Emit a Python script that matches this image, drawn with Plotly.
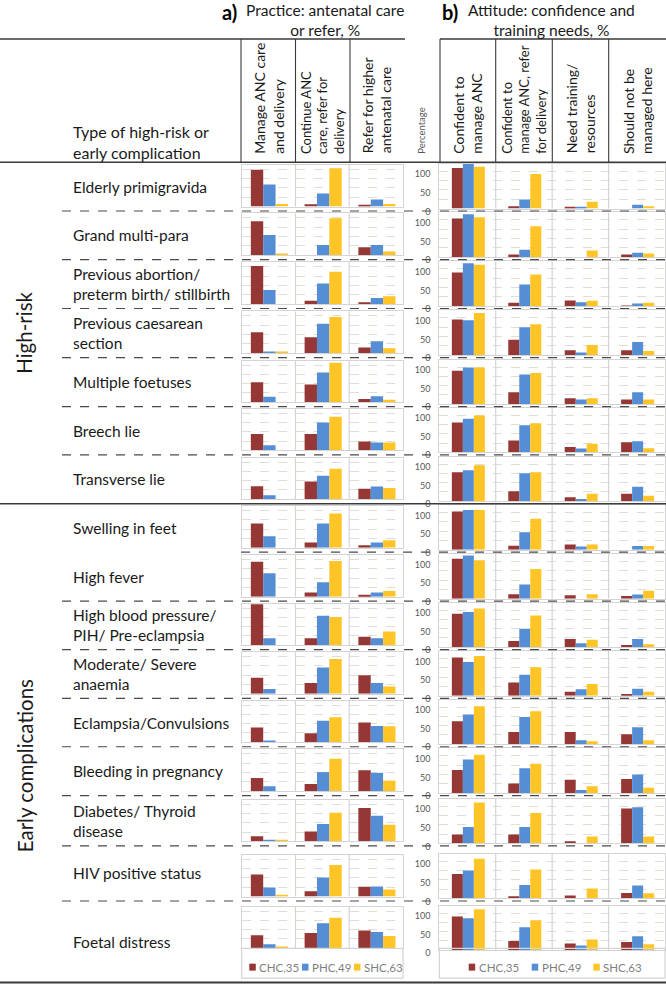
import plotly.graph_objects as go

# ---- data (percent) ----
conditions = [
    "Elderly primigravida", "Grand multi-para", "Previous abortion/<br>preterm birth/ stillbirth",
    "Previous caesarean<br>section", "Multiple foetuses", "Breech lie", "Transverse lie",
    "Swelling in feet", "High fever", "High blood pressure/<br>PIH/ Pre-eclampsia",
    "Moderate/ Severe<br>anaemia", "Eclampsia/Convulsions", "Bleeding in pregnancy",
    "Diabetes/ Thyroid<br>disease", "HIV positive status", "Foetal distress",
]
groups = ["High-risk", "Early complications"]
practice_cols = ["Manage ANC care<br>and delivery", "Continue ANC<br>care, refer for<br>delivery",
                 "Refer for higher<br>antenatal care"]
attitude_cols = ["Confident to<br>manage ANC", "Confident to<br>manage ANC, refer<br>for delivery",
                 "Need training/<br>resources", "Should not be<br>managed here"]
facilities = ["CHC,35", "PHC,49", "SHC,63"]
colors = ["#953735", "#558ED5", "#FFC425"]

chc_practice = [[99, 6, 5], [91, 0, 21], [102, 9, 5], [56, 43, 15], [54, 48, 9], [44, 44, 24],
                [35, 48, 28], [65, 14, 7], [94, 11, 5], [110, 19, 23], [43, 29, 50], [40, 24, 53],
                [35, 19, 56], [14, 27, 90], [59, 14, 26], [35, 41, 48]]
phc_practice = [[59, 35, 19], [54, 27, 27], [38, 55, 16], [4, 79, 32], [15, 80, 16], [14, 75, 21],
                [11, 63, 34], [31, 65, 14], [63, 39, 11], [19, 79, 19], [13, 71, 29], [4, 58, 44],
                [13, 51, 49], [4, 47, 69], [24, 51, 27], [11, 67, 44]]
shc_practice = [[7, 103, 7], [4, 99, 10], [0, 87, 21], [2, 97, 13], [0, 106, 7], [0, 90, 21],
                [0, 82, 30], [0, 92, 20], [0, 96, 15], [0, 76, 37], [0, 94, 20], [0, 67, 43],
                [0, 87, 28], [3, 77, 45], [4, 85, 19], [5, 82, 33]]

chc_attitude = [[109, 6, 4, 0], [104, 7, 0, 7], [90, 9, 15, 1], [96, 41, 13, 13], [90, 32, 16, 13],
                [80, 32, 14, 27], [78, 27, 11, 20], [103, 11, 14, 0], [107, 12, 9, 7], [90, 17, 22, 6],
                [103, 36, 11, 5], [62, 33, 33, 27], [62, 26, 36, 38], [24, 24, 6, 94], [66, 6, 8, 15],
                [91, 25, 18, 22]]
phc_attitude = [[120, 24, 4, 10], [115, 20, 0, 12], [115, 58, 10, 7], [94, 75, 7, 35], [99, 80, 13, 32],
                [90, 73, 10, 30], [83, 75, 6, 39], [107, 47, 9, 10], [116, 38, 0, 11], [95, 50, 11, 22],
                [91, 57, 18, 19], [80, 73, 11, 46], [90, 67, 8, 50], [44, 44, 0, 97], [75, 36, 0, 35],
                [86, 62, 13, 38]]
shc_attitude = [[112, 93, 18, 6], [107, 83, 18, 10], [111, 85, 14, 9], [113, 83, 27, 11], [99, 84, 16, 13],
                [99, 78, 23, 11], [97, 78, 20, 15], [107, 83, 14, 10], [103, 80, 12, 21], [104, 85, 20, 8],
                [107, 77, 32, 11], [102, 89, 8, 11], [103, 79, 18, 14], [110, 82, 19, 19], [107, 78, 27, 14],
                [110, 81, 29, 16]]

practice = [chc_practice, phc_practice, shc_practice]
attitude = [chc_attitude, phc_attitude, shc_attitude]

# ---- page geometry (pixels) ----
W, H = 666, 992
FONT = "Lato"
row_bounds = [163.5, 212.7, 261.7, 311, 360.5, 410, 458.5, 507.8, 556.7, 606, 655, 704,
              752.8, 802, 852.8, 908.3, 991]
prac_x = (241.7, 403)
att_x = (439.3, 665)


def fx(v):
    return v / W


def fy(v):
    return 1 - v / H


def ax(n):
    return "" if n == 1 else str(n)


def note(text, x, y, size, color="#1a1a1a", **kw):
    return dict(text=text, x=fx(x), y=fy(y), xref="paper", yref="paper", showarrow=False,
                font=dict(family=FONT, size=size, color=color), **kw)


fig = go.Figure()
shapes = []
annotations = []
grid_col = "#e2ddd2"
box_col = "#d4d4d4"

for i in range(len(conditions)):
    last = i == len(conditions) - 1
    p_base = 956 if last else row_bounds[i + 1] - 4.5
    a_base = 958 if last else row_bounds[i + 1] - 2.5
    for panel, (cols, data, xdom, base, top, width) in enumerate([
            (practice_cols, practice, prac_x, p_base, 112, 0.23),
            (attitude_cols, attitude, att_x, a_base, 120, 0.195)]):
        n = 2 * i + 1 + panel
        for j, name in enumerate(facilities):
            fig.add_trace(go.Bar(
                x=cols, y=data[j][i], name=name,
                xaxis="x" + ax(n), yaxis="y" + ax(n),
                marker=dict(color=colors[j], line=dict(width=0)),
                width=width, offset=-1.5 * width + j * width + 0.015,
                showlegend=False, hovertemplate="%{y}%<extra>" + name + "</extra>",
            ))
        px_h = top * 0.375
        fig.layout["xaxis" + ax(n)] = dict(
            domain=[fx(xdom[0]), fx(xdom[1])], anchor="y" + ax(n), type="category",
            categoryorder="array", categoryarray=cols, range=[-0.5, len(cols) - 0.5],
            showticklabels=False, showgrid=False, zeroline=False,
            showline=True, mirror=True, linecolor=box_col, linewidth=1.2, fixedrange=True)
        fig.layout["yaxis" + ax(n)] = dict(
            domain=[fy(base), fy(base - px_h)], anchor="x" + ax(n), range=[0, top],
            tickvals=[0, 50, 100], showticklabels=(panel == 1), ticks="",
            tickfont=dict(family=FONT, size=9, color="#595959"),
            ticklabelstandoff=6, ticklabelshift=3,
            showgrid=True, gridcolor=grid_col, gridwidth=1, griddash="dash",
            minor=dict(tickvals=[25, 75], showgrid=True, gridcolor=grid_col, griddash="dash"),
            zeroline=False, showline=True, mirror=True, linecolor=box_col, linewidth=1.2,
            fixedrange=True)
        for k in range(len(cols) - 1):
            shapes.append(dict(type="line", xref="x" + ax(n), yref="y" + ax(n) + " domain",
                               x0=k + 0.5, x1=k + 0.5, y0=0, y1=1,
                               line=dict(color=box_col, width=1.2)))

    # row label
    mid = (row_bounds[i] + row_bounds[i + 1]) / 2
    annotations.append(note(conditions[i], 71, mid, 15.5, xanchor="left", yanchor="middle", align="left"))

# extend the last row's boxes down to hold the legends
for x0, x1 in [prac_x, att_x]:
    shapes.append(dict(type="rect", xref="paper", yref="paper", x0=fx(x0), x1=fx(x1),
                       y0=fy(986), y1=fy(956), line=dict(color=box_col, width=1.2)))

# legends drawn under the last row
legend_pos = [[249.3, 302, 354], [468.7, 531.7, 593.3]]
for xs in legend_pos:
    for j, name in enumerate(facilities):
        shapes.append(dict(type="rect", xref="paper", yref="paper", x0=fx(xs[j]), x1=fx(xs[j] + 6.5),
                           y0=fy(978.5), y1=fy(971.5), fillcolor=colors[j], line=dict(width=0)))
        annotations.append(note(name, xs[j] + 8, 975.5, 11.5, "#7f7f7f", xanchor="left", yanchor="middle"))

# table rules
dark = "#3a3a3a"
for x0, x1 in [(0, 405), (440, 666)]:
    shapes.append(dict(type="line", xref="paper", yref="paper", x0=fx(x0), x1=fx(x1),
                       y0=fy(39.3), y1=fy(39.3), line=dict(color=dark, width=1.3)))
for yv, w in [(163.5, 1.6), (507.8, 1.6), (990.5, 1.8)]:
    shapes.append(dict(type="line", xref="paper", yref="paper", x0=0, x1=1,
                       y0=fy(yv), y1=fy(yv), line=dict(color=dark, width=w)))
for xv in [241, 295.5, 350, 440, 495.7, 552.3, 608.7]:
    shapes.append(dict(type="line", xref="paper", yref="paper", x0=fx(xv), x1=fx(xv),
                       y0=fy(39.3), y1=fy(163.5), line=dict(color=dark, width=1.1)))
for yv in row_bounds[1:-1]:
    if yv == 507.8:
        continue
    start = 241 if yv == 556.7 else 62
    shapes.append(dict(type="line", xref="paper", yref="paper", x0=fx(start), x1=1,
                       y0=fy(yv), y1=fy(yv), line=dict(color="#4a4a4a", width=1.2, dash="dash")))

# header texts
annotations += [
    note("<b>a)</b>", 239, 12, 20, "#000", xanchor="right", yanchor="middle"),
    note("Practice: antenatal care<br>or refer, %", 325, 20.5, 15.5, xanchor="center", yanchor="middle"),
    note("<b>b)</b>", 460, 12, 20, "#000", xanchor="right", yanchor="middle"),
    note("Attitude: confidence and<br>training needs, %", 551, 20.5, 15.5, xanchor="center",
         yanchor="middle"),
    note("Type of high-risk or<br>early complication", 71, 143, 16, xanchor="left", yanchor="middle",
         align="left"),
    note("Percentage", 422, 157, 9.5, "#595959", xanchor="center", yanchor="bottom", textangle=-90),
]
col_edges = [[241.7, 295.5, 350, 403], [439.3, 495.7, 552.3, 608.7, 665]]
for edges, cols in zip(col_edges, [practice_cols, attitude_cols]):
    for k, label in enumerate(cols):
        size = 13 if label.count("<br>") > 1 else 14
        annotations.append(note(label, (edges[k] + edges[k + 1]) / 2, 157, size, xanchor="center",
                                yanchor="bottom", align="left", textangle=-90))

# group labels
for label, yc in zip(groups, [335, 772]):
    annotations.append(note(label, 24.5, yc, 20.5, xanchor="center", yanchor="middle", textangle=-90))

fig.update_layout(
    width=W, height=H, autosize=False,
    margin=dict(l=0, r=0, t=0, b=0),
    paper_bgcolor="white", plot_bgcolor="white",
    barmode="overlay", showlegend=False,
    shapes=shapes, annotations=annotations,
    font=dict(family=FONT),
)

fig.write_html("out.html", config={"displayModeBar": False},
               post_script="document.body.style.margin='0px';document.body.style.overflow='hidden';")
